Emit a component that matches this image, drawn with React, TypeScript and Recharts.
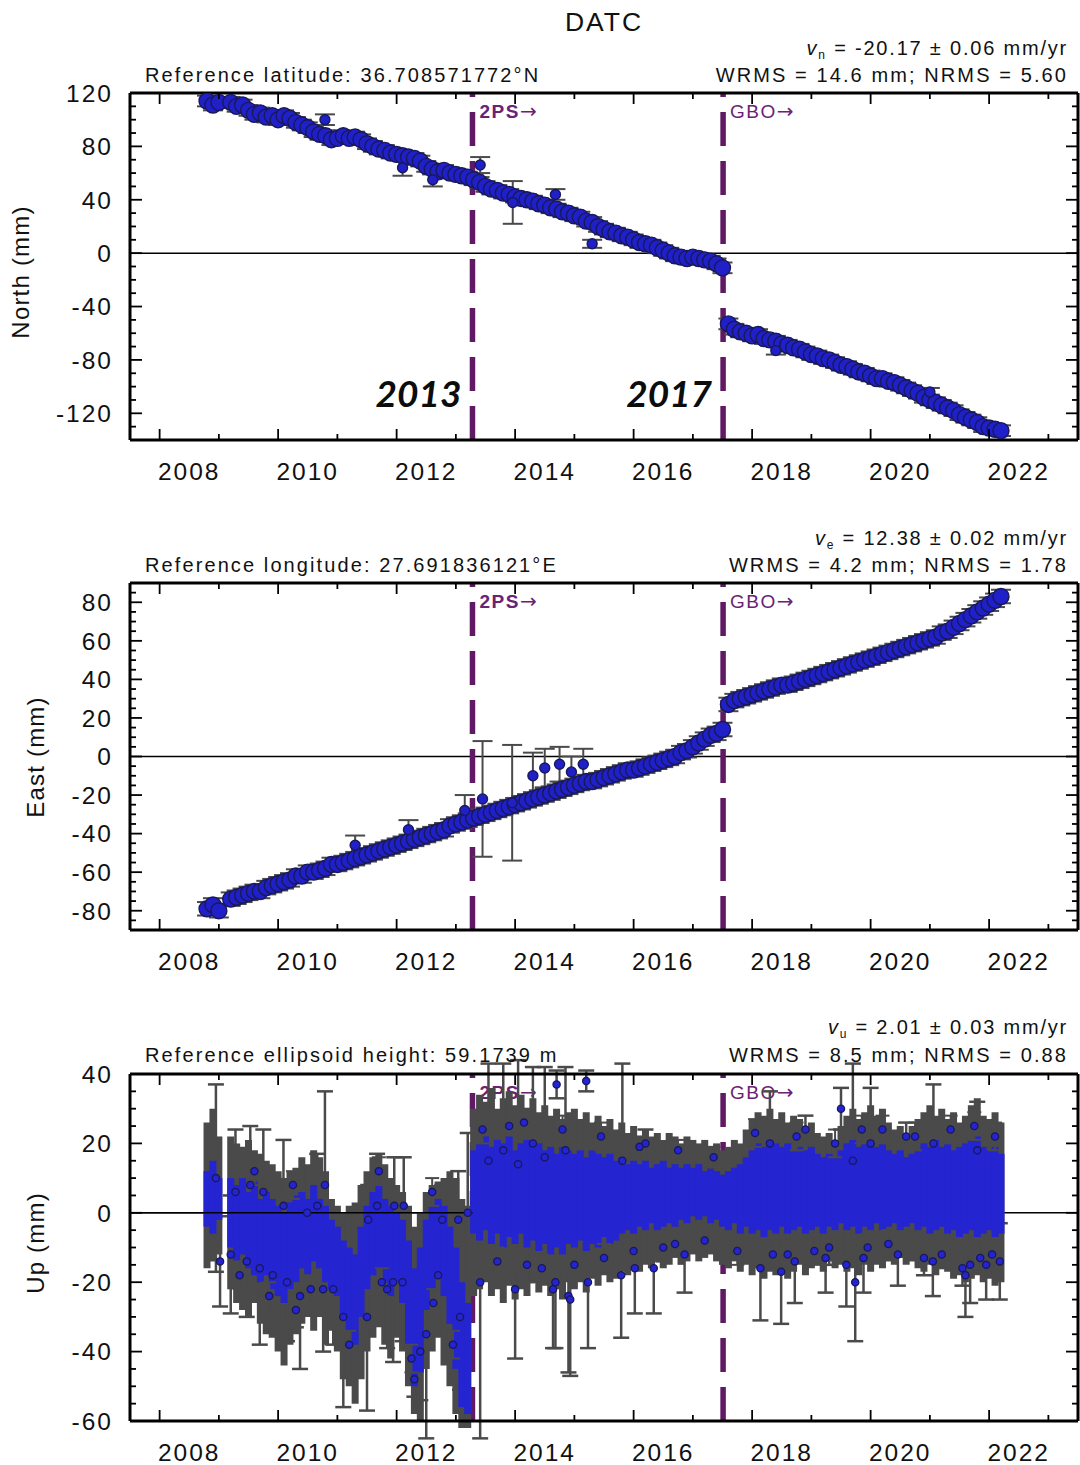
import React from 'react';
import { ScatterChart, Scatter, XAxis, YAxis, ErrorBar, ReferenceLine } from 'recharts';

// ---------------------------------------------------------------------------
// Station metadata
// ---------------------------------------------------------------------------
const STATION = 'DATC';
const REFERENCE_TEXT = [
  'Reference latitude: 36.708571772°N',
  'Reference longitude: 27.691836121°E',
  'Reference ellipsoid height: 59.1739 m',
];
const RATE_SUBSCRIPT = ['n', 'e', 'u'];
const RATE_TEXT = [' = -20.17 ± 0.06 mm/yr', ' = 12.38 ± 0.02 mm/yr', ' = 2.01 ± 0.03 mm/yr'];
const RMS_TEXT = ['WRMS = 14.6 mm; NRMS = 5.60', 'WRMS = 4.2 mm; NRMS = 1.78', 'WRMS = 8.5 mm; NRMS = 0.88'];
const AXIS_TITLE = ['North (mm)', 'East (mm)', 'Up (mm)'];

// Equipment changes (decimal years)
const CHANGE_2PS = 2013.28;
const CHANGE_GBO = 2017.51;
const CHANGE_TAGS = ['2PS', 'GBO'];
const CHANGE_YEARS = ['2013', '2017'];

// ---------------------------------------------------------------------------
// Axes
// ---------------------------------------------------------------------------
const X_DOMAIN: [number, number] = [2007.5, 2023.5];
const YEAR_TICKS = [2008, 2009, 2010, 2011, 2012, 2013, 2014, 2015, 2016, 2017, 2018, 2019, 2020, 2021, 2022, 2023];
const YEAR_LABELS = [2008, 2010, 2012, 2014, 2016, 2018, 2020, 2022];

const NORTH_DOMAIN: [number, number] = [-140, 120];
const NORTH_TICKS = [-140, -130, -120, -110, -100, -90, -80, -70, -60, -50, -40, -30, -20, -10, 0, 10, 20, 30, 40, 50, 60, 70, 80, 90, 100, 110, 120];
const NORTH_LABELS = [-120, -80, -40, 0, 40, 80, 120];

const EAST_DOMAIN: [number, number] = [-90, 90];
const EAST_TICKS = [-90, -85, -80, -75, -70, -65, -60, -55, -50, -45, -40, -35, -30, -25, -20, -15, -10, -5, 0, 5, 10, 15, 20, 25, 30, 35, 40, 45, 50, 55, 60, 65, 70, 75, 80, 85, 90];
const EAST_LABELS = [-80, -60, -40, -20, 0, 20, 40, 60, 80];

const UP_DOMAIN: [number, number] = [-60, 40];
const UP_TICKS = [-60, -55, -50, -45, -40, -35, -30, -25, -20, -15, -10, -5, 0, 5, 10, 15, 20, 25, 30, 35, 40];
const UP_LABELS = [-60, -40, -20, 0, 20, 40];

// ---------------------------------------------------------------------------
// Time series: one bin every EPOCH_STEP years starting at EPOCH_START (null = no data)
// ---------------------------------------------------------------------------
const EPOCH_START = 2008.8;
const EPOCH_STEP = 0.1;

// North (mm)
const northValues: (number | null)[] = [
  114, 111, 113, null, 113, 110, 111, 107, 104, 105, 102, 103,
  100, 103, 101, 98, 96, 94, 91, 89, 88, 85,
  86, 88, 86, 87, 85, 82, 80, 78, 77, 75,
  74, 73, 72, 71, 69, 65, 63, 61, 62, 60,
  59, 58, 57, 55, 53, 50, 48, 47, 45, 44,
  42, 41, 40, 39, 37, 36, 34, 33, 31, 30,
  28, 27, 24, 23, 20, 18, 16, 15, 13, 12,
  10, 8, 7, 6, 4, 2, 0, -2, -3, -4,
  -3, -4, -5, -6, -8, -11,
  -53, -57, -59, -60,
  -62, -61, -64, -65, -66, -68, -69, -71, -72, -74,
  -76, -77, -79, -80, -82, -84, -85, -87, -89, -90,
  -92, -94, -94, -96, -97, -99, -101, -103, -105, -108,
  -110, -112, -114, -116, -118, -121, -123, -125, -127, -130,
  -131, -132, -133,
];
const NORTH_SIGMA = 4;
const northOutlierEpochs = [2010.79, 2012.1, 2012.61, 2013.41, 2013.96, 2014.68, 2015.3, 2018.4, 2021.0];
const northOutlierValues = [100, 64, 55, 66, 38, 44, 7, -73, -104];
const northOutlierSigmas = [4, 6, 5, 6, 16, 4, 3, 3, 3];

// East (mm)
const eastValues: (number | null)[] = [
  -79, -77, -80, null, -74, -73, -72, -71, -70, -70, -68, -67,
  -66, -65, -64, -62, -62, -60, -60, -59, -58, -56,
  -56, -55, -54, -53, -52, -51, -50, -49, -48, -47,
  -46, -45, -44, -43, -42, -41, -40, -39, -38, -36,
  -35, -34, -33, -32, -31, -30, -29, -28, -27, -26,
  -25, -24, -23, -22, -21, -20, -19, -18, -17, -16,
  -15, -14, -13, -13, -12, -11, -10, -9, -8, -7,
  -7, -6, -5, -4, -3, -2, -1, 0, 2, 3,
  5, 7, 9, 11, 12, 14,
  27, 29, 30, 31,
  32, 33, 34, 35, 36, 37, 37, 38, 39, 40,
  41, 42, 43, 44, 45, 46, 47, 48, 49, 50,
  51, 52, 53, 54, 55, 56, 57, 58, 59, 60,
  61, 62, 64, 65, 67, 69, 71, 73, 75, 77,
  79, 81, 83,
];
const EAST_SIGMA = 3.5;
const eastOutlierEpochs = [2011.3, 2012.2, 2013.15, 2013.45, 2013.95, 2014.3, 2014.5, 2014.75, 2014.95, 2015.15];
const eastOutlierValues = [-46, -38, -28, -22, -24, -10, -6, -4, -8, -4];
const eastOutlierSigmas = [5, 5, 8, 30, 30, 12, 10, 9, 8, 8];

// Up (mm): extent of the dense solution cloud and of its error bars per bin
const upCloudLow: (number | null)[] = [
  -4, -6, -2, null, -10, -14, -12, -16, -18, -20, -18, -22,
  -24, -26, -22, -20, -16, -18, -14, -16, -20, -22,
  -24, -30, -34, -38, -30, -22, -18, -16, -20, -24,
  -20, -26, -38, -50, -46, -28, -22, -18, -24, -32,
  -45, -56, -58, -6, -8, -5, -9, -6, -10, -7,
  -9, -6, -10, -8, -11, -9, -12, -10, -12, -9,
  -10, -8, -11, -9, -10, -7, -9, -8, -6, -5,
  -6, -4, -5, -3, -5, -4, -3, -4, -2, -3,
  -1, -2, -1, -3, -2, -4,
  -5, -3, -6, -4,
  -6, -5, -7, -5, -6, -4, -6, -5, -4, -6,
  -5, -4, -6, -4, -5, -3, -5, -4, -6, -4,
  -5, -3, -5, -4, -3, -5, -4, -3, -5, -4,
  -6, -5, -4, -6, -5, -7, -6, -5, -7, -6,
  -5, -7, -6,
];
const upCloudHigh: (number | null)[] = [
  12, 15, 10, null, 10, 8, 10, 6, 9, 4, 6, 4,
  2, 0, 3, 5, 6, 4, 8, 4, 2, -2,
  -4, -8, -10, -12, -4, 2, 6, 8, 4, 2,
  0, -2, -8, -16, -10, -2, 2, 4, 2, -4,
  -10, -20, -26, 18, 20, 22, 19, 21, 20, 22,
  18, 20, 21, 19, 20, 18, 19, 17, 19, 18,
  17, 18, 16, 18, 17, 16, 17, 15, 16, 14,
  15, 14, 15, 13, 14, 15, 13, 14, 13, 14,
  13, 14, 12, 13, 12, 11,
  12, 13, 14, 16,
  18, 20, 19, 21, 20, 19, 20, 18, 19, 18,
  19, 17, 16, 17, 16, 18, 20, 21, 19, 20,
  21, 19, 20, 18, 17, 18, 16, 17, 18, 20,
  19, 21, 19, 20, 18, 19, 20, 21, 22, 19,
  18, 19, 17,
];
const upBarLow: (number | null)[] = [
  -16, -14, -12, null, -22, -26, -28, -30, -26, -32, -35, -36,
  -40, -44, -38, -35, -32, -30, -34, -30, -38, -34,
  -40, -48, -50, -55, -48, -40, -36, -33, -38, -42,
  -36, -40, -50, -58, -60, -45, -40, -36, -44, -50,
  -58, -62, -62, -24, -22, -20, -24, -22, -26, -21,
  -25, -22, -24, -20, -23, -21, -24, -22, -25, -20,
  -22, -20, -23, -19, -21, -18, -20, -19, -17, -18,
  -16, -17, -15, -16, -14, -16, -15, -13, -15, -14,
  -12, -14, -13, -12, -14, -15,
  -16, -14, -17, -15,
  -18, -16, -19, -17, -18, -16, -19, -17, -15, -18,
  -16, -15, -17, -14, -16, -15, -17, -16, -18, -15,
  -17, -15, -16, -14, -15, -13, -15, -14, -16, -17,
  -15, -18, -16, -17, -19, -18, -20, -19, -18, -20,
  -19, -21, -20,
];
const upBarHigh: (number | null)[] = [
  26, 30, 22, null, 22, 20, 19, 21, 18, 17, 15, 14,
  12, 10, 12, 13, 16, 14, 18, 16, 12, 4,
  2, 0, 2, 3, 8, 12, 16, 17, 14, 10,
  8, 6, 2, -4, 0, 6, 8, 9, 10, 12,
  10, 4, 2, 30, 34, 32, 36, 30, 33, 35,
  31, 34, 30, 33, 29, 31, 28, 30, 27, 29,
  30, 27, 29, 26, 28, 25, 27, 24, 26, 23,
  25, 22, 24, 22, 23, 21, 23, 22, 20, 22,
  21, 20, 21, 19, 20, 18,
  19, 21, 20, 24,
  27, 29, 28, 30, 27, 29, 26, 28, 27, 25,
  26, 23, 22, 23, 21, 25, 28, 30, 27, 29,
  31, 28, 30, 26, 24, 25, 23, 25, 27, 29,
  31, 28, 30, 27, 29, 26, 28, 31, 33, 28,
  27, 29, 26,
];
// Individually visible Up solutions with long error bars
const upPointEpochs = [
  2008.95, 2009.02, 2009.2, 2009.28, 2009.47, 2009.53, 2009.69, 2009.75, 2009.91, 2010.09,
  2010.15, 2010.3, 2010.37, 2010.49, 2010.66, 2010.76, 2010.79, 2010.93, 2011.1, 2011.5,
  2011.52, 2011.67, 2011.84, 2011.94, 2011.96, 2012.1, 2012.12, 2012.3, 2012.4, 2012.5,
  2012.7, 2012.77, 2013.04, 2013.07, 2013.2, 2013.41,
  2013.55, 2013.8, 2013.9, 2014.0, 2014.05, 2014.2, 2014.3, 2014.5, 2014.64, 2014.68,
  2014.7, 2014.85, 2014.9, 2014.93, 2015.2, 2015.23, 2015.79, 2015.81, 2016.02, 2016.2,
  2016.34, 2016.5, 2016.86, 2018.14, 2018.3, 2018.49, 2018.6, 2018.72, 2018.9, 2019.24,
  2019.3, 2019.5, 2019.59, 2019.7, 2019.74, 2019.88, 2020.0, 2020.46, 2020.6, 2020.9,
  2021.05, 2021.06, 2021.55, 2021.6, 2021.68, 2021.8, 2021.95, 2022.18,
];
const upPointValues = [
  10, -14, -12, 6, -14, 8, -16, 6, -18, 2,
  -20, -28, -24, 0, 2, -22, 8, -22, -30, -30,
  -2, 2, -22, -20, 2, -20, 2, -48, -40, -35,
  -18, -2, -2, -30, 0, -20,
  15, 18, 25, -22, 14, -15, 20, 16, -22, -20,
  37, 18, -24, -25, 38, -20, -18, 15, -16, 20,
  -16, -10, -12, -16, 20, -17, -12, -14, 24, -13,
  -10, 30, -15, 15, -20, -13, 20, -12, 22, -13,
  -14, 20, -16, -18, -15, 18, -15, -14,
];
const upPointSigmas = [
  27, 13, 17, 18, 16, 17, 22, 18, 16, 19,
  17, 5, 21, 13, 15, 18, 27, 16, 26, 27,
  10, 15, 17, 23, 14, 17, 14, 5, 14, 30,
  17, 10, 14, 21, 23, 45,
  28, 25, 5, 20, 30, 5, 22, 26, 17, 19,
  4, 24, 22, 22, 3, 19, 18, 28, 13, 4,
  13, 4, 11, 15, 15, 15, 4, 12, 4, 10,
  5, 6, 12, 28, 17, 10, 16, 9, 4, 5,
  10, 17, 5, 12, 11, 14, 10, 11,
];
// Scattered Up solutions lying outside the dense cloud
const upDotEpochs = [
  2009.35, 2009.6, 2009.85, 2010.25, 2010.55, 2011.2, 2011.7, 2011.75, 2012.25, 2012.6, 2012.62, 2012.95,
  2013.45, 2013.7, 2014.15, 2014.45, 2014.8, 2015.0, 2015.45, 2015.5, 2016.0, 2016.1, 2016.7, 2016.75,
  2017.2, 2017.35, 2017.75, 2018.05, 2018.35, 2018.75, 2019.05, 2019.4, 2019.85, 2019.95, 2020.2, 2020.3,
  2020.75, 2021.2, 2021.35, 2021.75, 2021.85, 2022.05, 2022.1,
];
const upDotValues = [
  -18, 12, -24, 8, -22, -38, 12, -20, -42, 6, -26, -38,
  24, -14, 26, -16, 24, -15, 22, -13, -11, 19, -9, 18,
  -8, 16, -11, 23, -12, 22, -11, 20, 24, -10, 24, -9,
  22, -12, 24, 25, -13, -12, 22,
];
const upDotSigmas = [
  4, 4, 4, 4, 4, 4, 4, 4, 4, 4, 4, 4,
  4, 4, 4, 4, 4, 4, 4, 4, 4, 3, 3, 3,
  3, 3, 4, 4, 4, 4, 4, 4, 4, 4, 4, 4,
  4, 4, 4, 4, 4, 4, 4,
];

// ---------------------------------------------------------------------------
// Layout & style
// ---------------------------------------------------------------------------
const FONT = '"Liberation Sans", Arial, Helvetica, sans-serif';
const INK = '#000000';
const MARK_BLUE = '#2020c8';
const MARK_EDGE = '#18185a';
const CLOUD_BLUE = '#2424d0';
const BAR_GREY = '#4a4a4a';
const LINE_PURPLE = '#5f1a63';
const TAG_PURPLE = '#6b2272';

const PAGE_W = 1080;
const PAGE_H = 1465;
const PLOT_LEFT = 130;
const PLOT_RIGHT = 1078;
const PLOT_HEIGHT = 347;
const PAD_TOP = 60;
const PAD_BOTTOM = 50;
const LEFT_AXIS_W = 70;
const EDGE_AXIS = 1; // thickness reserved by the top / right mirror axes
const PANEL_PLOT_TOPS = [93, 583, 1074];
const PX_PER_YEAR = (PLOT_RIGHT - PLOT_LEFT) / (X_DOMAIN[1] - X_DOMAIN[0]);

type Row = { t: number; v: number; err: number | [number, number] };

const epochOf = (i: number) => Math.round((EPOCH_START + i * EPOCH_STEP) * 1000) / 1000;

function seriesRows(values: (number | null)[], sigma: number): Row[] {
  const rows: Row[] = [];
  values.forEach((v, i) => {
    if (v !== null) rows.push({ t: epochOf(i), v, err: sigma });
  });
  return rows;
}

function rangeRows(low: (number | null)[], high: (number | null)[]): Row[] {
  const rows: Row[] = [];
  low.forEach((lo, i) => {
    const hi = high[i];
    if (lo !== null && hi !== null) rows.push({ t: epochOf(i), v: lo, err: [0, hi - lo] });
  });
  return rows;
}

function pointRows(epochs: number[], values: number[], sigmas: number[]): Row[] {
  return epochs.map((t, i) => ({ t, v: values[i], err: sigmas[i] }));
}

const northRows = seriesRows(northValues, NORTH_SIGMA);
const northOutliers = pointRows(northOutlierEpochs, northOutlierValues, northOutlierSigmas);
const eastRows = seriesRows(eastValues, EAST_SIGMA);
const eastOutliers = pointRows(eastOutlierEpochs, eastOutlierValues, eastOutlierSigmas);
const upBarRows = rangeRows(upBarLow, upBarHigh);
const upCloudRows = rangeRows(upCloudLow, upCloudHigh);
const upPoints = pointRows(upPointEpochs, upPointValues, upPointSigmas);
const upDots = pointRows(upDotEpochs, upDotValues, upDotSigmas);

// ---------------------------------------------------------------------------
// Marks
// ---------------------------------------------------------------------------
const BandDot = (p: any) => (
  <circle cx={p.cx} cy={p.cy} r={8} fill={MARK_BLUE} stroke={MARK_EDGE} strokeWidth={1.4} />
);
const OutlierDot = (p: any) => (
  <circle cx={p.cx} cy={p.cy} r={5} fill={MARK_BLUE} stroke={MARK_EDGE} strokeWidth={1.4} />
);
const UpDot = (p: any) => (
  <circle cx={p.cx} cy={p.cy} r={3.6} fill={CLOUD_BLUE} stroke={MARK_EDGE} strokeWidth={1.3} />
);
const NoDot = () => <g />;

// ---------------------------------------------------------------------------
// Axis ticks (all tick marks point into the frame)
// ---------------------------------------------------------------------------
function BottomYearTick(props: any) {
  const { x, y, payload } = props;
  const year = payload.value as number;
  const labelled = YEAR_LABELS.includes(year);
  return (
    <g>
      <line x1={x} x2={x} y1={y} y2={y - (labelled ? 11 : 6)} stroke={INK} strokeWidth={1.8} />
      {labelled && (
        <text x={x + PX_PER_YEAR / 2} y={y + 40} textAnchor="middle" fontFamily={FONT} fontSize={24.5} letterSpacing={2} fill="#111">
          {year}
        </text>
      )}
    </g>
  );
}

function TopYearTick(props: any) {
  const { x, y, payload } = props;
  const labelled = YEAR_LABELS.includes(payload.value);
  return <line x1={x} x2={x} y1={y} y2={y + (labelled ? 11 : 6)} stroke={INK} strokeWidth={1.8} />;
}

function LeftValueTick(props: any) {
  const { x, y, payload, labels } = props;
  const value = payload.value as number;
  const labelled = labels.includes(value);
  return (
    <g>
      <line x1={x} x2={x + (labelled ? 12 : 6)} y1={y} y2={y} stroke={INK} strokeWidth={1.8} />
      {labelled && (
        <text x={x - 17} y={y + 8.8} textAnchor="end" fontFamily={FONT} fontSize={24.5} letterSpacing={2} fill="#111">
          {value}
        </text>
      )}
    </g>
  );
}

function RightValueTick(props: any) {
  const { x, y, payload, labels } = props;
  const labelled = labels.includes(payload.value);
  return <line x1={x} x2={x - (labelled ? 12 : 6)} y1={y} y2={y} stroke={INK} strokeWidth={1.8} />;
}

function ChangeTag(props: any) {
  const { viewBox, tag, bold, year } = props;
  const { x, y, height } = viewBox;
  return (
    <g>
      <text x={x + 7} y={y + 25} fill={TAG_PURPLE} fontFamily={FONT} fontSize={19} fontWeight={bold ? 700 : 400} letterSpacing={1.5}>
        {tag}
        <tspan fontFamily="'DejaVu Sans', sans-serif" fontWeight={400} fontSize={20}>→</tspan>
      </text>
      {year && (
        <text x={x - 11} y={y + height - 33} textAnchor="end" fill="#0c0c0c" fontFamily="Lato, 'Open Sans', sans-serif" fontSize={37} fontWeight={700} fontStyle="italic">
          {year}
        </text>
      )}
    </g>
  );
}

// ---------------------------------------------------------------------------
// One component panel: frame, ticks, zero line, equipment-change markers
// ---------------------------------------------------------------------------
function Panel(props: {
  index: number;
  domain: [number, number];
  ticks: number[];
  labels: number[];
  children: React.ReactNode;
  after?: React.ReactNode;
}) {
  const { index, domain, ticks, labels, children, after } = props;
  const frame = { stroke: INK, strokeWidth: 3 };
  return (
    <div style={{ position: 'absolute', left: 0, top: PANEL_PLOT_TOPS[index] - PAD_TOP }}>
      <ScatterChart
        width={PAGE_W}
        height={PAD_TOP + PLOT_HEIGHT + PAD_BOTTOM}
        margin={{
          top: PAD_TOP - EDGE_AXIS,
          right: PAGE_W - PLOT_RIGHT - EDGE_AXIS,
          bottom: PAD_BOTTOM - EDGE_AXIS,
          left: PLOT_LEFT - LEFT_AXIS_W,
        }}
      >
        <XAxis xAxisId={0} type="number" dataKey="t" domain={X_DOMAIN} ticks={YEAR_TICKS} interval={0} allowDataOverflow
          height={EDGE_AXIS} tickSize={0} tickMargin={0} tickLine={false} axisLine={frame} tick={<BottomYearTick />} />
        <XAxis xAxisId="top" orientation="top" type="number" dataKey="t" domain={X_DOMAIN} ticks={YEAR_TICKS} interval={0} allowDataOverflow
          height={EDGE_AXIS} tickSize={0} tickMargin={0} tickLine={false} axisLine={frame} tick={<TopYearTick />} />
        <YAxis yAxisId={0} type="number" dataKey="v" domain={domain} ticks={ticks} interval={0} allowDataOverflow
          width={LEFT_AXIS_W} tickSize={0} tickMargin={0} tickLine={false} axisLine={frame} tick={<LeftValueTick labels={labels} />} />
        <YAxis yAxisId="right" orientation="right" type="number" dataKey="v" domain={domain} ticks={ticks} interval={0} allowDataOverflow
          width={EDGE_AXIS} tickSize={0} tickMargin={0} tickLine={false} axisLine={frame} tick={<RightValueTick labels={labels} />} />

        <ReferenceLine y={0} stroke={INK} strokeWidth={1.5} />
        <ReferenceLine x={CHANGE_2PS} stroke={LINE_PURPLE} strokeWidth={5.5} strokeDasharray="34 15"
          label={<ChangeTag tag={CHANGE_TAGS[0]} bold year={index === 0 ? CHANGE_YEARS[0] : undefined} />} />
        <ReferenceLine x={CHANGE_GBO} stroke={LINE_PURPLE} strokeWidth={5.5} strokeDasharray="34 15"
          label={<ChangeTag tag={CHANGE_TAGS[1]} year={index === 0 ? CHANGE_YEARS[1] : undefined} />} />

        {children}
        {after}
      </ScatterChart>
    </div>
  );
}

// ---------------------------------------------------------------------------
// Page text (titles, statistics, axis titles)
// ---------------------------------------------------------------------------
function PageText() {
  const rateBase = [55, 545, 1034];
  const rmsBase = [82, 572, 1062];
  const axisTitleX = [29, 44, 44];
  const axisTitleY = [272, 757, 1243];
  const textStyle = { fontFamily: FONT, fill: '#111' };
  return (
    <svg width={PAGE_W} height={PAGE_H} style={{ position: 'absolute', left: 0, top: 0, pointerEvents: 'none' }}>
      <text x={604} y={31} textAnchor="middle" fontSize={26.5} letterSpacing={2} {...textStyle}>
        {STATION}
      </text>
      {[0, 1, 2].map((i) => (
        <g key={i}>
          <text x={145} y={rmsBase[i]} fontSize={20} letterSpacing={2.1} {...textStyle}>
            {REFERENCE_TEXT[i]}
          </text>
          <text x={1068} y={rmsBase[i]} textAnchor="end" fontSize={20} letterSpacing={2.1} {...textStyle}>
            {RMS_TEXT[i]}
          </text>
          <text x={1068} y={rateBase[i]} textAnchor="end" fontSize={20} letterSpacing={1.8} {...textStyle}>
            <tspan fontStyle="italic">v</tspan>
            <tspan fontSize={12} dy={4}>{RATE_SUBSCRIPT[i]}</tspan>
            <tspan dy={-4}>{RATE_TEXT[i]}</tspan>
          </text>
          <text
            x={axisTitleX[i]}
            y={axisTitleY[i]}
            textAnchor="middle"
            fontSize={24}
            letterSpacing={1.2}
            transform={`rotate(-90 ${axisTitleX[i]} ${axisTitleY[i]})`}
            {...textStyle}
          >
            {AXIS_TITLE[i]}
          </text>
        </g>
      ))}
    </svg>
  );
}

// ---------------------------------------------------------------------------
export default function App() {
  const bandBars = { dataKey: 'err', direction: 'y' as const, stroke: BAR_GREY, strokeWidth: 2, width: 10, isAnimationActive: false };
  return (
    <div style={{ position: 'absolute', left: 0, top: 0, width: PAGE_W, height: PAGE_H, background: '#fff', overflow: 'hidden' }}>
      <Panel index={0} domain={NORTH_DOMAIN} ticks={NORTH_TICKS} labels={NORTH_LABELS}>
        <Scatter data={northRows} shape={BandDot} isAnimationActive={false}>
          <ErrorBar {...bandBars} />
        </Scatter>
        <Scatter data={northOutliers} shape={OutlierDot} isAnimationActive={false}>
          <ErrorBar {...bandBars} />
        </Scatter>
      </Panel>

      <Panel index={1} domain={EAST_DOMAIN} ticks={EAST_TICKS} labels={EAST_LABELS}>
        <Scatter data={eastRows} shape={BandDot} isAnimationActive={false}>
          <ErrorBar {...bandBars} />
        </Scatter>
        <Scatter data={eastOutliers} shape={OutlierDot} isAnimationActive={false}>
          <ErrorBar {...bandBars} />
        </Scatter>
      </Panel>

      <Panel
        index={2}
        domain={UP_DOMAIN}
        ticks={UP_TICKS}
        labels={UP_LABELS}
        after={<ReferenceLine segment={[{ x: X_DOMAIN[0], y: 0 }, { x: CHANGE_2PS, y: 0 }]} stroke={INK} strokeWidth={1.5} />}
      >
        <Scatter data={upBarRows} shape={NoDot} isAnimationActive={false}>
          <ErrorBar dataKey="err" direction="y" stroke={BAR_GREY} strokeWidth={7} width={0} isAnimationActive={false} />
        </Scatter>
        <Scatter data={upPoints} shape={UpDot} isAnimationActive={false}>
          <ErrorBar dataKey="err" direction="y" stroke={BAR_GREY} strokeWidth={2.5} width={8} isAnimationActive={false} />
        </Scatter>
        <Scatter data={upCloudRows} shape={NoDot} isAnimationActive={false}>
          <ErrorBar dataKey="err" direction="y" stroke={CLOUD_BLUE} strokeWidth={7} width={0} isAnimationActive={false} />
        </Scatter>
        <Scatter data={upDots} shape={UpDot} isAnimationActive={false}>
          <ErrorBar dataKey="err" direction="y" stroke={BAR_GREY} strokeWidth={2} width={7} isAnimationActive={false} />
        </Scatter>
      </Panel>

      <PageText />
    </div>
  );
}
